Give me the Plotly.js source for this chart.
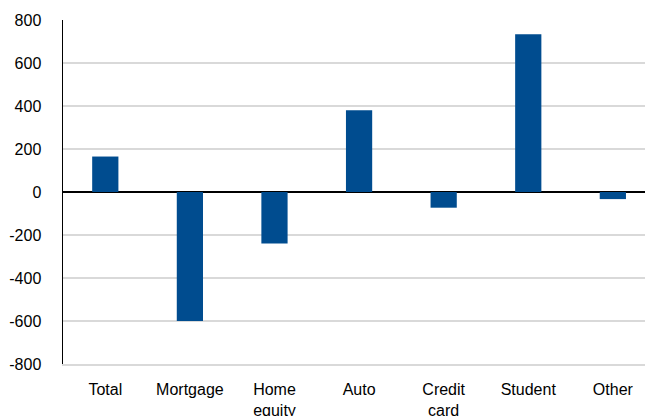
<!DOCTYPE html>
<html>
<head>
<meta charset="utf-8">
<script src="https://cdn.plot.ly/plotly-3.0.1.min.js"></script>
<style>html,body{margin:0;padding:0;background:#fff;}#chart{width:645px;height:416px;}</style>
</head>
<body>
<div id="chart"></div>
<script>
const categories = ["Total", "Mortgage", "Home<br>equity", "Auto", "Credit<br>card", "Student", "Other"];
const values = [165, -600, -240, 380, -73, 734, -33];
const yTicks = [-800, -600, -400, -200, 0, 200, 400, 600, 800];

const trace = {
  type: "bar",
  x: categories,
  y: values,
  marker: {color: "#004C8F", line: {width: 0}},
  hoverinfo: "skip"
};

const layout = {
  width: 645,
  height: 416,
  margin: {l: 63, r: 0, t: 19.5, b: 52.3, pad: 0},
  paper_bgcolor: "#ffffff",
  plot_bgcolor: "#ffffff",
  showlegend: false,
  bargap: 0.69,
  font: {family: "'Liberation Sans', Arial, sans-serif", size: 16, color: "#000000"},
  xaxis: {
    type: "category",
    range: [-0.5, 6.38],
    showgrid: false,
    showline: true,
    linecolor: "#d9d9d9",
    linewidth: 1.5,
    zeroline: false,
    ticks: "",
    ticklabelstandoff: 10,
    tickfont: {family: "'Liberation Sans', Arial, sans-serif", size: 16, color: "#000000"}
  },
  yaxis: {
    range: [-800, 800],
    tickvals: yTicks,
    ticktext: yTicks.map(String),
    showgrid: true,
    gridcolor: "#d9d9d9",
    gridwidth: 1.5,
    zeroline: true,
    zerolinecolor: "#000000",
    zerolinewidth: 1.5,
    showline: true,
    linecolor: "#000000",
    linewidth: 1.5,
    ticks: "",
    ticklabelstandoff: 17,
    tickfont: {family: "'Liberation Sans', Arial, sans-serif", size: 16, color: "#000000"}
  }
};

Plotly.newPlot("chart", [trace], layout, {displayModeBar: false, staticPlot: true});
</script>
</body>
</html>
